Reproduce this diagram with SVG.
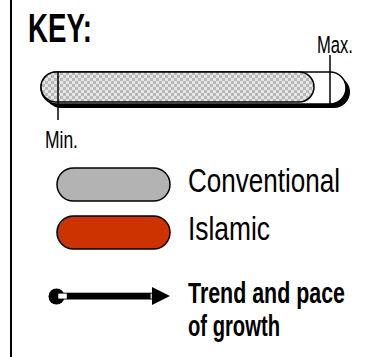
<svg xmlns="http://www.w3.org/2000/svg" width="366" height="357" viewBox="0 0 366 357">
<defs>
<pattern id="chk" patternUnits="userSpaceOnUse" width="6" height="6">
<rect width="6" height="6" fill="#e6e6e6"/>
<rect width="3" height="3" fill="#b8b8b8"/>
<rect x="3" y="3" width="3" height="3" fill="#b8b8b8"/>
</pattern>
<style>
.t{font-family:"Liberation Sans",Arial,sans-serif;fill:#000}
.b{font-weight:bold}
.ol{stroke:#000;stroke-width:1.5}
</style>
</defs>
<rect width="366" height="357" fill="#fff"/>
<rect x="10" y="0" width="2" height="357" fill="#000"/>
<g id="title">
<text class="t b" transform="translate(28,42) scale(0.64,1)" font-size="41" textLength="100" lengthAdjust="spacingAndGlyphs">KEY:</text>
</g>
<g id="range-bar">
<rect x="45" y="76" width="305" height="32" rx="16" fill="#000"/>
<rect x="41" y="72" width="305" height="32" rx="16" fill="#fff" class="ol"/>
<rect x="41" y="72" width="273" height="30" rx="15" fill="url(#chk)" class="ol"/>
</g>
<g id="connectors">
<line x1="58" y1="72" x2="58" y2="120" stroke="#000" stroke-width="1.5"/>
<line x1="330" y1="55" x2="330" y2="104" stroke="#000" stroke-width="1.5"/>
</g>
<g id="labels">
<text class="t" transform="translate(317,52.7) scale(0.7,1)" font-size="23.5" textLength="51.4" lengthAdjust="spacingAndGlyphs">Max.</text>
<text class="t" transform="translate(45,148.3) scale(0.7,1)" font-size="23.5" textLength="47.1" lengthAdjust="spacingAndGlyphs">Min.</text>
</g>
<g id="conventional">
<rect x="57" y="168" width="113" height="33" rx="16.5" fill="#b3b3b3" class="ol"/>
<text class="t" transform="translate(188,191.7) scale(0.77,1)" font-size="33" textLength="197.4" lengthAdjust="spacingAndGlyphs">Conventional</text>
</g>
<g id="islamic">
<rect x="57" y="216" width="113" height="33" rx="16.5" fill="#cc3300" class="ol"/>
<text class="t" transform="translate(188,240) scale(0.77,1)" font-size="33" textLength="106.5" lengthAdjust="spacingAndGlyphs">Islamic</text>
</g>
<g id="trend">
<circle cx="56.5" cy="296.5" r="8" fill="#000"/>
<rect x="56" y="292.7" width="97" height="6.8" fill="#000"/>
<rect x="58.3" y="293.6" width="8.5" height="5" fill="#fff"/>
<rect x="150.6" y="293.6" width="1.2" height="5" fill="#fff"/>
<polygon points="152,287 170,296 152,305" fill="#000"/>
<text class="t b" transform="translate(188,302.5) scale(0.65,1)" font-size="30"><tspan x="0" y="0" textLength="241.5" lengthAdjust="spacingAndGlyphs">Trend and pace</tspan><tspan x="0" y="33.6" textLength="141.5" lengthAdjust="spacingAndGlyphs">of growth</tspan></text>
</g>
</svg>
